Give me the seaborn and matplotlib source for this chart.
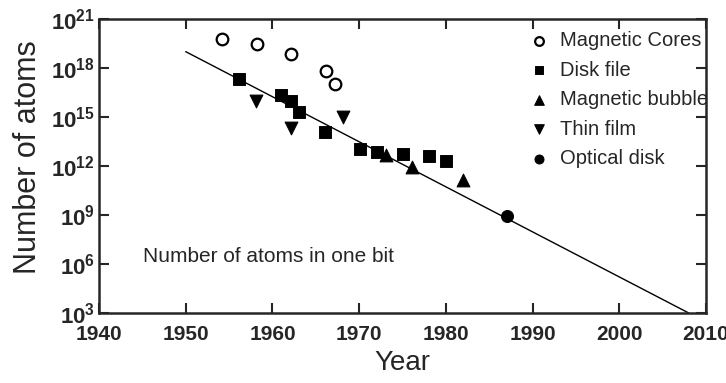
import matplotlib
matplotlib.use('Agg')
import matplotlib.pyplot as plt
import pandas as pd
import seaborn as sns

# Data (year, number of atoms per bit)
core_year = [1954.2, 1958.2, 1962.1, 1966.2, 1967.2]
core_atoms = [6e19, 3e19, 7.5e18, 7e17, 1e17]

disk_year = [1956.1, 1961.0, 1962.1, 1963.1, 1966.1, 1970.1, 1972.0, 1975.0, 1978.0, 1980.0]
disk_atoms = [2.1e17, 2.2e16, 1e16, 2.1e15, 1.15e14, 1.1e13, 7e12, 5.4e12, 4.1e12, 2e12]

bubble_year = [1973.1, 1976.1, 1982.0]
bubble_atoms = [4.7e12, 9e11, 1.3e11]

film_year = [1958.1, 1962.1, 1968.1]
film_atoms = [9.5e15, 2e14, 9.5e14]

optical_year = [1987.0]
optical_atoms = [9e8]

trend_year = [1950, 2008]
trend_atoms = [1e19, 1e3]

xticks = [1940, 1950, 1960, 1970, 1980, 1990, 2000, 2010]
yexp = [3, 6, 9, 12, 15, 18, 21]

sns.set_style('ticks')
plt.rcParams['font.family'] = ['Liberation Sans', 'DejaVu Sans']
plt.rcParams['mathtext.fontset'] = 'custom'
plt.rcParams['mathtext.rm'] = 'Liberation Sans:bold'
plt.rcParams['mathtext.it'] = 'Liberation Sans:bold'
plt.rcParams['mathtext.bf'] = 'Liberation Sans:bold'

fig = plt.figure(figsize=(7.26, 3.83), dpi=100)
ax = fig.add_axes([0.1364, 0.1828, 0.8361, 0.7676])

sns.lineplot(x=trend_year, y=trend_atoms, ax=ax, color='black', linewidth=1.0)

sns.scatterplot(x=core_year, y=core_atoms, ax=ax, marker='o', s=70, facecolor='white',
                edgecolor='black', linewidth=1.6, label='Magnetic Cores', zorder=3)
sns.scatterplot(x=disk_year, y=disk_atoms, ax=ax, marker='s', s=70, color='black',
                edgecolor='black', label='Disk file', zorder=3)
sns.scatterplot(x=bubble_year, y=bubble_atoms, ax=ax, marker='^', s=85, color='black',
                edgecolor='black', label='Magnetic bubble', zorder=3)
sns.scatterplot(x=film_year, y=film_atoms, ax=ax, marker='v', s=85, color='black',
                edgecolor='black', label='Thin film', zorder=3)
sns.scatterplot(x=optical_year, y=optical_atoms, ax=ax, marker='o', s=75, color='black',
                edgecolor='black', label='Optical disk', zorder=3)

ax.set_yscale('log')
ax.set_xlim(1940, 2010)
ax.set_ylim(1e3, 1e21)

ax.set_xticks(xticks)
ax.set_xticklabels([str(t) for t in xticks], fontsize=15, fontweight='bold')
ax.set_yticks([10.0 ** e for e in yexp])
ax.set_yticklabels([r'$10^{%d}$' % e for e in yexp], fontsize=16)
ax.minorticks_off()
ax.tick_params(direction='in', length=7, width=1.5, top=True, right=True)
ax.tick_params(axis='x', pad=9)
ax.tick_params(axis='y', pad=3)
for sp in ax.spines.values():
    sp.set_linewidth(1.8)

ax.set_xlabel('Year', fontsize=20)
ax.xaxis.set_label_coords(0.5, -0.125)
ax.set_ylabel('Number of atoms', fontsize=22)
ax.yaxis.set_label_coords(-0.092, 0.53)

ax.text(1945.1, 10 ** 6.44, 'Number of atoms in one bit', fontsize=15, va='center', ha='left')

leg = ax.legend(loc='upper left', frameon=False, fontsize=14.5, markerscale=0.75,
                handletextpad=0.75, labelspacing=0.52, borderpad=0.4, handlelength=0.6,
                bbox_to_anchor=(515 / 726, 1 - 13 / 383), bbox_transform=fig.transFigure)

fig.savefig('out.png', dpi=100)
